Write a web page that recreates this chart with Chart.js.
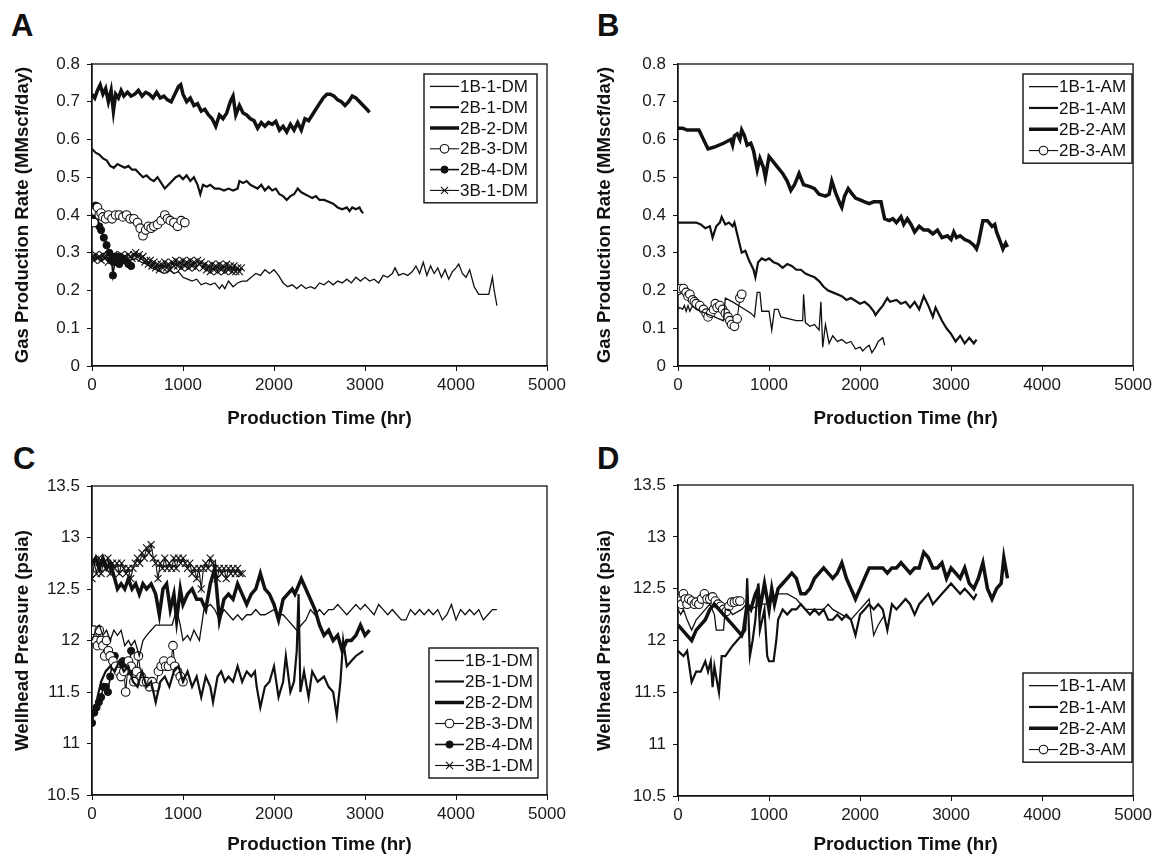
<!DOCTYPE html>
<html lang="en">
<head>
<meta charset="UTF-8">
<title>Gas production rate and wellhead pressure</title>
<script src="https://cdn.jsdelivr.net/npm/chart.js"></script>
<style>
  body { margin: 0; background: #fff; }
  #wrap { position: relative; width: 1156px; height: 857px; font-family: "Liberation Sans", Arial, sans-serif; }
  .panel { position: absolute; }
  .tag { position: absolute; font-weight: bold; font-size: 31px; line-height: 1; color: #111; }
</style>
</head>
<body>
<div id="wrap">
  <div class="tag" style="left:11px;top:10px">A</div>
  <div class="tag" style="left:597px;top:10px">B</div>
  <div class="tag" style="left:13px;top:443px">C</div>
  <div class="tag" style="left:597px;top:443px">D</div>
  <canvas id="chartA" class="panel" width="578" height="430" style="left:0;top:0"></canvas>
  <canvas id="chartB" class="panel" width="578" height="430" style="left:578px;top:0"></canvas>
  <canvas id="chartC" class="panel" width="578" height="427" style="left:0;top:430px"></canvas>
  <canvas id="chartD" class="panel" width="578" height="427" style="left:578px;top:430px"></canvas>
</div>

<script>
// ---- data: [hours, value] ----

// A: gas rate, DM wells
const rateDM_1B1 = [[0,0.29],[60,0.285],[120,0.29],[180,0.28],[240,0.29],[300,0.285],[360,0.29],[420,0.28],[480,0.285],[540,0.275],[600,0.27],[650,0.26],[700,0.255],[750,0.25],[800,0.245],[850,0.255],[900,0.245],[950,0.25],[1000,0.235],[1050,0.23],[1100,0.225],[1150,0.23],[1200,0.215],[1250,0.22],[1300,0.215],[1350,0.22],[1400,0.205],[1430,0.215],[1460,0.205],[1500,0.225],[1550,0.21],[1600,0.22],[1650,0.225],[1700,0.225],[1750,0.235],[1800,0.245],[1850,0.24],[1900,0.255],[1950,0.245],[2000,0.255],[2050,0.24],[2100,0.22],[2150,0.21],[2200,0.215],[2250,0.205],[2300,0.215],[2350,0.205],[2400,0.21],[2450,0.205],[2500,0.22],[2550,0.215],[2600,0.225],[2650,0.215],[2700,0.225],[2750,0.22],[2800,0.23],[2850,0.22],[2900,0.235],[2950,0.225],[3000,0.235],[3050,0.225],[3100,0.23],[3150,0.22],[3200,0.24],[3250,0.235],[3300,0.245],[3330,0.26],[3370,0.24],[3420,0.245],[3470,0.24],[3520,0.25],[3560,0.265],[3600,0.245],[3640,0.275],[3680,0.24],[3720,0.265],[3760,0.245],[3800,0.26],[3840,0.235],[3880,0.255],[3920,0.23],[3960,0.25],[4000,0.26],[4030,0.27],[4070,0.245],[4110,0.235],[4150,0.255],[4200,0.21],[4250,0.19],[4300,0.19],[4360,0.19],[4400,0.235],[4420,0.2],[4450,0.16]];
const rateDM_2B1 = [[0,0.575],[40,0.565],[80,0.56],[120,0.55],[160,0.545],[200,0.53],[240,0.525],[280,0.535],[320,0.53],[360,0.525],[400,0.53],[440,0.52],[480,0.52],[520,0.51],[560,0.5],[600,0.505],[640,0.495],[680,0.49],[720,0.5],[760,0.485],[800,0.47],[840,0.48],[880,0.49],[920,0.5],[960,0.505],[1000,0.495],[1040,0.505],[1080,0.49],[1120,0.5],[1160,0.48],[1190,0.455],[1220,0.48],[1260,0.475],[1300,0.48],[1350,0.47],[1400,0.47],[1450,0.465],[1500,0.47],[1550,0.465],[1600,0.47],[1620,0.49],[1660,0.485],[1700,0.49],[1740,0.48],[1780,0.475],[1820,0.47],[1860,0.48],[1900,0.465],[1940,0.475],[1980,0.465],[2020,0.47],[2060,0.455],[2100,0.45],[2140,0.44],[2180,0.45],[2220,0.455],[2260,0.47],[2300,0.46],[2340,0.455],[2380,0.45],[2420,0.445],[2460,0.45],[2500,0.44],[2550,0.44],[2600,0.435],[2650,0.43],[2700,0.42],[2750,0.415],[2800,0.42],[2830,0.41],[2860,0.42],[2900,0.415],[2940,0.42],[2960,0.41],[2980,0.405]];
const rateDM_2B2 = [[0,0.72],[30,0.71],[60,0.73],[90,0.745],[120,0.72],[150,0.735],[180,0.7],[210,0.73],[235,0.675],[260,0.72],[290,0.71],[320,0.73],[350,0.715],[390,0.725],[430,0.715],[470,0.72],[510,0.73],[550,0.715],[590,0.725],[630,0.72],[670,0.71],[710,0.725],[750,0.71],[790,0.715],[830,0.705],[870,0.7],[910,0.72],[950,0.74],[975,0.745],[1000,0.72],[1040,0.7],[1080,0.71],[1120,0.69],[1160,0.695],[1200,0.675],[1240,0.68],[1280,0.665],[1320,0.655],[1360,0.635],[1400,0.665],[1440,0.655],[1480,0.67],[1520,0.7],[1550,0.715],[1580,0.665],[1620,0.69],[1660,0.67],[1700,0.665],[1740,0.655],[1780,0.65],[1820,0.63],[1860,0.645],[1900,0.635],[1940,0.645],[1980,0.64],[2020,0.648],[2060,0.625],[2100,0.635],[2140,0.62],[2180,0.64],[2220,0.625],[2260,0.645],[2300,0.625],[2340,0.655],[2380,0.65],[2420,0.665],[2460,0.68],[2500,0.695],[2540,0.71],[2580,0.72],[2620,0.72],[2660,0.715],[2700,0.705],[2740,0.7],[2780,0.69],[2820,0.7],[2860,0.715],[2900,0.71],[2940,0.7],[2980,0.69],[3020,0.68],[3050,0.672]];
const rateDM_2B3 = [[0,0.41],[20,0.38],[40,0.41],[60,0.42],[80,0.4],[100,0.405],[120,0.395],[150,0.39],[180,0.4],[220,0.39],[260,0.4],[300,0.4],[340,0.395],[380,0.4],[420,0.39],[460,0.39],[500,0.38],[530,0.365],[560,0.345],[590,0.36],[620,0.37],[650,0.365],[680,0.37],[720,0.375],[760,0.385],[800,0.4],[830,0.39],[860,0.385],[900,0.38],[940,0.37],[980,0.385],[1020,0.38]];
const rateDM_2B4 = [[0,0.4],[20,0.42],[40,0.425],[60,0.4],[80,0.37],[100,0.36],[130,0.34],[160,0.32],[190,0.3],[215,0.28],[230,0.24],[250,0.275],[270,0.29],[300,0.27],[330,0.285],[360,0.28],[400,0.27],[430,0.265]];
const rateDM_3B1 = [[0,0.29],[20,0.28],[40,0.295],[60,0.285],[80,0.29],[100,0.28],[120,0.295],[140,0.285],[160,0.29],[180,0.275],[200,0.29],[220,0.28],[240,0.295],[260,0.285],[280,0.29],[300,0.28],[320,0.295],[340,0.285],[360,0.29],[380,0.28],[400,0.295],[420,0.29],[440,0.285],[460,0.295],[480,0.3],[500,0.29],[520,0.295],[540,0.285],[560,0.29],[580,0.275],[600,0.28],[620,0.27],[640,0.28],[660,0.265],[680,0.275],[700,0.26],[720,0.27],[740,0.255],[760,0.27],[780,0.26],[800,0.275],[820,0.26],[840,0.27],[860,0.255],[880,0.275],[900,0.265],[920,0.28],[940,0.265],[960,0.275],[980,0.26],[1000,0.28],[1020,0.265],[1040,0.275],[1060,0.26],[1080,0.28],[1100,0.265],[1120,0.275],[1140,0.26],[1160,0.28],[1180,0.27],[1200,0.275],[1220,0.26],[1240,0.27],[1260,0.255],[1280,0.265],[1300,0.25],[1320,0.27],[1340,0.255],[1360,0.265],[1380,0.25],[1400,0.27],[1420,0.255],[1440,0.265],[1460,0.25],[1480,0.27],[1500,0.255],[1520,0.265],[1540,0.25],[1560,0.265],[1580,0.25],[1600,0.26],[1620,0.25],[1640,0.26]];

// B: gas rate, AM wells
const rateAM_1B1 = [[0,0.15],[20,0.155],[50,0.15],[70,0.16],[90,0.145],[110,0.16],[130,0.145],[160,0.16],[200,0.15],[250,0.145],[300,0.14],[350,0.135],[400,0.13],[450,0.125],[500,0.12],[520,0.18],[600,0.17],[700,0.155],[800,0.14],[840,0.13],[870,0.195],[900,0.195],[920,0.145],[1000,0.145],[1030,0.095],[1060,0.15],[1100,0.15],[1130,0.13],[1300,0.12],[1370,0.12],[1380,0.19],[1400,0.115],[1450,0.105],[1500,0.11],[1550,0.095],[1570,0.17],[1590,0.05],[1620,0.11],[1660,0.06],[1700,0.08],[1750,0.065],[1800,0.07],[1850,0.06],[1900,0.065],[1950,0.045],[2000,0.05],[2030,0.04],[2070,0.05],[2100,0.055],[2130,0.035],[2170,0.05],[2200,0.065],[2250,0.075],[2270,0.055]];
const rateAM_2B1 = [[0,0.38],[100,0.38],[200,0.38],[250,0.375],[300,0.365],[350,0.37],[380,0.34],[420,0.37],[460,0.38],[480,0.395],[520,0.375],[560,0.38],[600,0.37],[620,0.38],[650,0.35],[680,0.32],[700,0.3],[740,0.305],[780,0.28],[830,0.255],[850,0.235],[880,0.275],[920,0.285],[960,0.28],[1000,0.285],[1050,0.275],[1100,0.27],[1150,0.26],[1200,0.27],[1250,0.265],[1300,0.255],[1350,0.255],[1400,0.245],[1450,0.24],[1500,0.235],[1550,0.225],[1600,0.21],[1650,0.2],[1700,0.195],[1800,0.185],[1850,0.175],[1900,0.18],[2000,0.165],[2050,0.17],[2100,0.16],[2150,0.145],[2170,0.135],[2200,0.145],[2250,0.16],[2300,0.18],[2330,0.17],[2400,0.175],[2450,0.165],[2500,0.17],[2550,0.155],[2600,0.17],[2650,0.15],[2700,0.185],[2750,0.16],[2800,0.13],[2830,0.155],[2900,0.12],[2950,0.1],[3000,0.085],[3050,0.065],[3100,0.08],[3150,0.06],[3200,0.075],[3250,0.06],[3280,0.07]];
const rateAM_2B2 = [[0,0.63],[50,0.63],[100,0.625],[150,0.625],[230,0.625],[280,0.6],[330,0.575],[400,0.58],[500,0.59],[580,0.6],[600,0.585],[620,0.61],[650,0.615],[680,0.6],[700,0.625],[730,0.61],[760,0.585],[800,0.59],[830,0.57],[870,0.52],[900,0.55],[940,0.525],[960,0.5],[1000,0.555],[1050,0.54],[1100,0.525],[1150,0.51],[1200,0.49],[1240,0.465],[1280,0.48],[1330,0.51],[1380,0.48],[1450,0.475],[1500,0.47],[1550,0.455],[1620,0.45],[1660,0.455],[1690,0.49],[1730,0.46],[1780,0.43],[1800,0.42],[1830,0.45],[1870,0.47],[1900,0.46],[1950,0.445],[2000,0.44],[2050,0.435],[2100,0.43],[2150,0.435],[2230,0.435],[2270,0.39],[2320,0.385],[2360,0.39],[2400,0.38],[2450,0.395],[2480,0.375],[2520,0.39],[2560,0.375],[2600,0.355],[2650,0.37],[2700,0.36],[2750,0.36],[2800,0.35],[2850,0.36],[2900,0.34],[2960,0.345],[3000,0.335],[3030,0.355],[3060,0.34],[3100,0.345],[3150,0.335],[3200,0.33],[3250,0.32],[3280,0.31],[3300,0.325],[3350,0.385],[3400,0.385],[3450,0.37],[3480,0.375],[3500,0.355],[3540,0.33],[3570,0.31],[3600,0.325],[3620,0.315]];
const rateAM_2B3 = [[0,0.2],[30,0.205],[60,0.205],[90,0.195],[110,0.185],[130,0.19],[160,0.175],[180,0.17],[200,0.165],[240,0.16],[280,0.15],[310,0.14],[330,0.13],[360,0.14],[390,0.15],[410,0.165],[430,0.155],[460,0.16],[490,0.15],[520,0.14],[550,0.13],[570,0.12],[590,0.11],[620,0.105],[650,0.125],[680,0.18],[700,0.19]];

// C: wellhead pressure, DM wells
const presDM_1B1 = [[0,12.0],[20,12.05],[40,12.1],[80,12.15],[120,12.05],[160,12.1],[200,12.0],[240,12.1],[280,12.05],[320,12.1],[360,11.95],[400,12.0],[430,11.95],[470,12.0],[520,11.85],[560,12.0],[600,12.05],[650,12.1],[700,12.15],[800,12.15],[880,12.15],[930,12.3],[970,12.15],[1000,12.0],[1050,12.05],[1080,12.0],[1120,12.1],[1180,12.0],[1230,12.3],[1300,12.35],[1350,12.3],[1400,12.2],[1450,12.3],[1500,12.25],[1550,12.2],[1600,12.25],[1650,12.2],[1700,12.25],[1750,12.25],[1800,12.3],[1850,12.25],[1900,12.25],[2000,12.3],[2050,12.25],[2100,12.25],[2150,12.2],[2200,12.15],[2250,12.1],[2300,12.15],[2350,12.2],[2400,12.3],[2450,12.25],[2500,12.3],[2550,12.25],[2600,12.3],[2650,12.3],[2700,12.35],[2750,12.3],[2800,12.25],[2850,12.3],[2900,12.35],[2950,12.3],[3000,12.35],[3050,12.3],[3100,12.25],[3150,12.35],[3200,12.3],[3250,12.25],[3300,12.3],[3350,12.25],[3400,12.2],[3450,12.2],[3500,12.3],[3550,12.25],[3600,12.3],[3650,12.25],[3700,12.3],[3750,12.25],[3800,12.3],[3850,12.2],[3900,12.25],[3950,12.35],[4000,12.2],[4050,12.3],[4100,12.25],[4150,12.3],[4200,12.25],[4250,12.3],[4300,12.2],[4350,12.25],[4400,12.3],[4450,12.3]];
const presDM_2B1 = [[0,11.25],[30,11.3],[60,11.45],[100,11.6],[150,11.7],[200,11.75],[250,11.7],[300,11.8],[350,11.7],[400,11.75],[450,11.6],[500,11.55],[550,11.7],[600,11.55],[650,11.6],[700,11.4],[750,11.6],[800,11.65],[850,11.55],[900,11.7],[950,11.75],[1000,11.6],[1050,11.7],[1100,11.55],[1150,11.65],[1200,11.45],[1250,11.65],[1300,11.55],[1330,11.4],[1380,11.65],[1420,11.7],[1460,11.6],[1500,11.65],[1550,11.6],[1600,11.75],[1650,11.6],[1700,11.7],[1750,11.65],[1790,11.7],[1810,11.55],[1850,11.35],[1900,11.55],[1950,11.6],[2000,11.75],[2050,11.45],[2100,11.6],[2130,11.85],[2180,11.5],[2220,11.6],[2250,11.9],[2270,12.45],[2290,11.5],[2330,11.7],[2380,11.45],[2420,11.7],[2480,11.6],[2550,11.65],[2600,11.55],[2650,11.5],[2690,11.27],[2730,11.6],[2760,12.0],[2800,11.75],[2850,11.8],[2900,11.85],[2980,11.9]];
const presDM_2B2 = [[0,12.75],[40,12.8],[80,12.7],[120,12.8],[160,12.7],[200,12.75],[250,12.6],[280,12.5],[320,12.55],[360,12.5],[400,12.6],[440,12.5],[480,12.55],[520,12.45],[560,12.55],[600,12.5],[650,12.55],[700,12.45],[740,12.25],[780,12.5],[820,12.55],[860,12.3],[900,12.45],[930,12.2],[970,12.5],[1000,12.35],[1050,12.45],[1100,12.5],[1150,12.4],[1200,12.4],[1250,12.3],[1300,12.55],[1350,12.7],[1400,12.2],[1450,12.4],[1500,12.45],[1550,12.4],[1600,12.55],[1650,12.45],[1700,12.35],[1750,12.45],[1800,12.5],[1850,12.65],[1900,12.5],[1950,12.45],[2000,12.35],[2050,12.2],[2100,12.4],[2150,12.45],[2200,12.5],[2230,12.45],[2300,12.6],[2350,12.5],[2400,12.4],[2450,12.3],[2500,12.15],[2550,12.05],[2600,12.1],[2650,12.0],[2700,12.05],[2750,11.9],[2800,12.0],[2850,12.0],[2900,12.05],[2950,12.15],[3000,12.05],[3050,12.1]];
const presDM_2B3 = [[0,12.05],[20,12.1],[40,12.0],[60,11.95],[80,12.1],[100,12.0],[120,11.95],[140,11.85],[160,12.0],[180,11.9],[200,11.85],[230,11.8],[260,11.75],[290,11.7],[320,11.65],[350,11.7],[370,11.5],[400,11.8],[430,11.75],[460,11.6],[490,11.7],[510,11.85],[540,11.65],[560,11.6],[600,11.6],[630,11.55],[660,11.6],[700,11.55],[730,11.7],[760,11.75],[790,11.8],[810,11.75],[840,11.75],[870,11.8],[890,11.95],[910,11.75],[940,11.7],[970,11.65],[1000,11.6]];
const presDM_2B4 = [[0,11.2],[25,11.3],[50,11.35],[75,11.4],[100,11.45],[125,11.55],[150,11.55],[175,11.5],[200,11.65],[225,11.8],[250,11.85],[280,11.75],[310,11.7],[340,11.8],[370,11.75],[400,11.7],[430,11.9]];
const presDM_3B1 = [[0,12.6],[25,12.75],[50,12.65],[75,12.8],[100,12.65],[125,12.75],[150,12.7],[175,12.8],[200,12.65],[225,12.75],[250,12.7],[275,12.75],[300,12.65],[325,12.75],[350,12.7],[375,12.65],[400,12.7],[425,12.6],[450,12.7],[475,12.75],[500,12.8],[525,12.75],[550,12.85],[575,12.8],[600,12.9],[625,12.85],[650,12.93],[675,12.8],[700,12.75],[725,12.6],[750,12.75],[775,12.7],[800,12.8],[825,12.7],[850,12.75],[875,12.7],[900,12.8],[925,12.7],[950,12.8],[975,12.75],[1000,12.8],[1025,12.75],[1050,12.7],[1075,12.75],[1100,12.65],[1125,12.7],[1150,12.6],[1175,12.7],[1200,12.5],[1225,12.7],[1250,12.75],[1275,12.7],[1300,12.8],[1325,12.75],[1350,12.7],[1375,12.6],[1400,12.7],[1425,12.65],[1450,12.7],[1475,12.6],[1500,12.7],[1525,12.65],[1550,12.7],[1575,12.65],[1600,12.7],[1625,12.65],[1650,12.65]];

// D: wellhead pressure, AM wells
const presAM_1B1 = [[0,12.3],[30,12.25],[60,12.3],[100,12.2],[150,12.1],[200,12.2],[300,12.3],[350,12.35],[400,12.25],[420,12.1],[500,12.1],[520,12.3],[560,12.3],[600,12.25],[700,12.3],[750,12.35],[800,12.3],[900,12.35],[1000,12.35],[1050,12.4],[1100,12.45],[1200,12.45],[1300,12.4],[1350,12.35],[1400,12.3],[1500,12.3],[1600,12.3],[1650,12.35],[1700,12.3],[1800,12.25],[1900,12.2],[2000,12.3],[2050,12.35],[2100,12.4],[2150,12.05],[2200,12.15],[2270,12.25]];
const presAM_2B1 = [[0,11.9],[60,11.85],[100,11.9],[150,11.6],[200,11.7],[250,11.7],[300,11.8],[330,11.7],[360,11.8],[380,11.55],[400,11.75],[430,11.6],[450,11.5],[480,11.85],[520,11.85],[560,11.9],[600,11.95],[650,12.0],[700,12.05],[740,12.1],[760,12.6],[790,11.85],[820,12.0],[850,12.2],[880,12.55],[900,12.1],[950,12.3],[980,11.85],[1000,11.8],[1050,11.8],[1080,12.0],[1100,12.2],[1150,12.3],[1200,12.25],[1250,12.3],[1300,12.3],[1350,12.35],[1400,12.3],[1450,12.25],[1500,12.3],[1550,12.25],[1600,12.3],[1650,12.2],[1700,12.2],[1750,12.25],[1800,12.2],[1850,12.25],[1900,12.2],[1950,12.05],[2000,12.25],[2050,12.3],[2100,12.35],[2150,12.3],[2200,12.35],[2250,12.3],[2300,12.1],[2350,12.35],[2400,12.3],[2450,12.35],[2500,12.4],[2550,12.35],[2600,12.25],[2650,12.35],[2700,12.4],[2750,12.45],[2800,12.35],[2850,12.4],[2900,12.45],[2950,12.5],[3000,12.55],[3050,12.5],[3100,12.45],[3150,12.5],[3200,12.45],[3250,12.4],[3280,12.45]];
const presAM_2B2 = [[0,12.15],[50,12.1],[100,12.05],[150,12.0],[200,12.1],[250,12.15],[300,12.2],[350,12.3],[400,12.35],[450,12.3],[500,12.25],[600,12.15],[650,12.1],[700,12.05],[720,12.1],[760,12.35],[800,12.3],[850,12.45],[880,12.5],[900,12.3],[950,12.55],[1000,12.3],[1030,12.5],[1060,12.35],[1100,12.5],[1150,12.55],[1200,12.6],[1250,12.65],[1300,12.6],[1350,12.45],[1400,12.45],[1450,12.5],[1500,12.6],[1550,12.65],[1600,12.7],[1650,12.65],[1700,12.6],[1750,12.65],[1800,12.75],[1850,12.6],[1900,12.5],[1950,12.4],[2000,12.5],[2050,12.6],[2100,12.7],[2150,12.7],[2200,12.7],[2250,12.7],[2300,12.65],[2350,12.7],[2400,12.7],[2450,12.75],[2500,12.7],[2550,12.65],[2600,12.7],[2650,12.7],[2700,12.85],[2750,12.8],[2800,12.7],[2850,12.7],[2900,12.75],[2950,12.6],[3000,12.7],[3050,12.65],[3100,12.6],[3150,12.7],[3200,12.55],[3250,12.5],[3300,12.6],[3350,12.75],[3400,12.5],[3450,12.4],[3500,12.5],[3550,12.55],[3580,12.8],[3600,12.7],[3620,12.6]];
const presAM_2B3 = [[0,12.4],[20,12.38],[40,12.35],[60,12.45],[80,12.4],[100,12.35],[120,12.4],[150,12.38],[180,12.35],[200,12.37],[230,12.35],[260,12.4],[290,12.45],[320,12.4],[350,12.4],[380,12.42],[410,12.38],[440,12.35],[470,12.33],[500,12.3],[530,12.28],[560,12.33],[590,12.37],[620,12.37],[650,12.38],[680,12.38]];

const timeTicks = [0, 1000, 2000, 3000, 4000, 5000];
const rateRange = [0, 0.8, 0.1];
const presRange = [10.5, 13.5, 0.5];

// ---- styling ----
const INK = '#111';
const FONT = '"Liberation Sans", Arial, Helvetica, sans-serif';

const styles = {
  thin:   { borderWidth: 1.3, pointRadius: 0 },
  medium: { borderWidth: 2.2, pointRadius: 0 },
  thick:  { borderWidth: 3.5, pointRadius: 0 },
  open:   { borderWidth: 1.1, pointRadius: 4.3, pointStyle: 'circle', pointBackgroundColor: '#fff', pointBorderWidth: 1.1 },
  filled: { borderWidth: 1.6, pointRadius: 3.6, pointStyle: 'circle', pointBackgroundColor: INK, pointBorderWidth: 1 },
  cross:  { borderWidth: 1.1, pointRadius: 5, pointStyle: 'crossRot', pointBackgroundColor: INK, pointBorderWidth: 1.1 }
};

function series(label, pts, kind) {
  return Object.assign({
    label: label,
    data: pts.map(p => ({ x: p[0], y: p[1] })),
    borderColor: INK,
    pointBorderColor: INK,
    tension: 0,
    fill: false
  }, styles[kind]);
}

// draws the outer box around the plot area
const frame = {
  id: 'frame',
  beforeDatasetsDraw(chart) {
    const { ctx, chartArea: a } = chart;
    ctx.save();
    ctx.strokeStyle = INK;
    ctx.lineWidth = 1.3;
    ctx.strokeRect(a.left, a.top, a.right - a.left, a.bottom - a.top);
    ctx.restore();
  }
};

// boxed legend inside the plot, sample line left of the label
const boxLegend = {
  id: 'boxLegend',
  afterDatasetsDraw(chart, args, opts) {
    const ctx = chart.ctx;
    const sets = chart.data.datasets;
    const h = opts.rowH * sets.length + 4;
    ctx.save();
    ctx.fillStyle = '#fff';
    ctx.fillRect(opts.left, opts.top, opts.width, h);
    ctx.strokeStyle = INK;
    ctx.lineWidth = 1.4;
    ctx.strokeRect(opts.left, opts.top, opts.width, h);
    sets.forEach((ds, i) => {
      const y = opts.top + 2 + opts.rowH * (i + 0.5);
      const x0 = opts.left + 6, x1 = opts.left + 35;
      ctx.strokeStyle = INK;
      ctx.lineWidth = ds.borderWidth;
      ctx.beginPath();
      ctx.moveTo(x0, y);
      ctx.lineTo(x1, y);
      ctx.stroke();
      if (ds.pointRadius > 0) {
        ctx.fillStyle = ds.pointBackgroundColor;
        ctx.lineWidth = ds.pointBorderWidth;
        Chart.helpers.drawPoint(ctx, {
          pointStyle: ds.pointStyle, radius: ds.pointRadius, rotation: 0, borderWidth: ds.pointBorderWidth
        }, (x0 + x1) / 2, y);
      }
      ctx.fillStyle = INK;
      ctx.font = '17px ' + FONT;
      ctx.textAlign = 'left';
      ctx.textBaseline = 'middle';
      ctx.fillText(ds.label, x1 + 1, y + 1);
    });
    ctx.restore();
  }
};

function plainNum(v) {
  return String(Math.round(v * 10) / 10);
}

function makeChart(id, datasets, range, yTitle, geo) {
  return new Chart(document.getElementById(id), {
    type: 'line',
    data: { datasets: datasets },
    plugins: [frame, boxLegend],
    options: {
      responsive: false,
      animation: false,
      events: [],
      layout: { padding: { left: 0, top: geo.padTop, right: geo.padRight, bottom: 0 } },
      plugins: {
        legend: { display: false },
        tooltip: { enabled: false },
        boxLegend: geo.legend
      },
      scales: {
        x: {
          type: 'linear',
          min: timeTicks[0],
          max: timeTicks[timeTicks.length - 1],
          afterBuildTicks: s => { s.ticks = timeTicks.map(v => ({ value: v })); },
          afterFit: s => { s.height = geo.xH; },
          border: { color: INK, width: 1.3 },
          grid: { drawOnChartArea: false, tickLength: 5, color: INK },
          ticks: { autoSkip: false, maxRotation: 0, padding: 4, color: '#1a1a1a', font: { family: FONT, size: 17 }, callback: v => String(v) },
          title: { display: true, text: 'Production Time (hr)', color: INK, font: { family: FONT, size: 18.8, weight: 'bold' }, padding: { top: 0, bottom: geo.xTitlePad } }
        },
        y: {
          min: range[0],
          max: range[1],
          afterFit: s => { s.width = geo.yW; },
          border: { color: INK, width: 1.3 },
          grid: { drawOnChartArea: false, tickLength: 5, color: INK },
          ticks: { stepSize: range[2], padding: 7, color: '#1a1a1a', font: { family: FONT, size: 17 }, callback: plainNum },
          title: { display: true, text: yTitle, color: INK, font: { family: FONT, size: 18.6, weight: 'bold' }, padding: { top: geo.yTitlePad, bottom: 0 } }
        }
      }
    }
  });
}

const rateTitle = 'Gas Production Rate (MMscf/day)';
const presTitle = 'Wellhead Pressure (psia)';

makeChart('chartA', [
  series('1B-1-DM', rateDM_1B1, 'thin'),
  series('2B-1-DM', rateDM_2B1, 'medium'),
  series('2B-2-DM', rateDM_2B2, 'thick'),
  series('2B-3-DM', rateDM_2B3, 'open'),
  series('2B-4-DM', rateDM_2B4, 'filled'),
  series('3B-1-DM', rateDM_3B1, 'cross')
], rateRange, rateTitle, {
  padTop: 64, padRight: 31, yW: 92, xH: 64, xTitlePad: 0, yTitlePad: 12,
  legend: { left: 424, top: 74, width: 113, rowH: 20.8 }
});

makeChart('chartB', [
  series('1B-1-AM', rateAM_1B1, 'thin'),
  series('2B-1-AM', rateAM_2B1, 'medium'),
  series('2B-2-AM', rateAM_2B2, 'thick'),
  series('2B-3-AM', rateAM_2B3, 'open')
], rateRange, rateTitle, {
  padTop: 64, padRight: 21, yW: 100, xH: 64, xTitlePad: 0, yTitlePad: 16,
  legend: { left: 445, top: 74, width: 109, rowH: 21.3 }
});

makeChart('chartC', [
  series('1B-1-DM', presDM_1B1, 'thin'),
  series('2B-1-DM', presDM_2B1, 'medium'),
  series('2B-2-DM', presDM_2B2, 'thick'),
  series('2B-3-DM', presDM_2B3, 'open'),
  series('2B-4-DM', presDM_2B4, 'filled'),
  series('3B-1-DM', presDM_3B1, 'cross')
], presRange, presTitle, {
  padTop: 56, padRight: 31, yW: 92, xH: 62, xTitlePad: 1, yTitlePad: 12,
  legend: { left: 429, top: 218, width: 109, rowH: 21 }
});

makeChart('chartD', [
  series('1B-1-AM', presAM_1B1, 'thin'),
  series('2B-1-AM', presAM_2B1, 'medium'),
  series('2B-2-AM', presAM_2B2, 'thick'),
  series('2B-3-AM', presAM_2B3, 'open')
], presRange, presTitle, {
  padTop: 55, padRight: 21, yW: 100, xH: 61, xTitlePad: 1, yTitlePad: 16,
  legend: { left: 445, top: 243, width: 109, rowH: 21.3 }
});
</script>
</body>
</html>
